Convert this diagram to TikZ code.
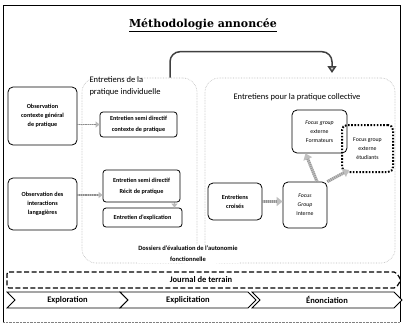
\documentclass[tikz,border=0pt]{standalone}
\usepackage{fontspec}
\setmainfont{Carlito}
\newfontfamily\titlefont{DejaVu Serif}
\usetikzlibrary{arrows.meta}

\begin{document}
\begin{tikzpicture}[x=1pt, y=-1pt,
    grpbox/.style={draw=gray!55, densely dotted, line width=0.6pt, rounded corners=14pt, inner sep=0pt},
    obsbox/.style={draw, line width=0.8pt, rounded corners=5pt, align=center, inner sep=1pt, font=\fontsize{6.2}{9}\selectfont\bfseries},
    entbox/.style={draw, line width=0.8pt, rounded corners=3pt, align=center, inner sep=1pt, font=\fontsize{6.2}{11}\selectfont\bfseries},
    fgbox/.style={draw, line width=0.8pt, rounded corners=5pt, align=center, inner sep=1pt, font=\fontsize{5.8}{9}\selectfont},
    linkarrow/.style={draw=gray!55, line width=1.6pt, -{Triangle[width=6pt,length=4pt]},
      postaction={draw=gray!90, line width=1.6pt, dash pattern=on 0.6pt off 1.2pt, arrows=-, shorten >=4pt}},
    fgarrow/.style={draw=gray!50, line width=3pt, -{Triangle[width=9pt,length=6pt]},
      postaction={draw=gray!85, line width=3pt, dash pattern=on 0.6pt off 1.4pt, arrows=-, shorten >=6pt}},
    phase/.style={draw, line width=0.8pt, fill=white},
    phaselbl/.style={font=\fontsize{8.5}{10}\selectfont\bfseries}
  ]
  \useasboundingbox (0,0) rectangle (404,330);

  % ===== cadre + titre =====
  \draw[line width=0.8pt] (3,322) -- (3,5) -- (400,5) -- (400,322);
  \draw[gray, densely dotted] (3,322) -- (400,322);
  \node[font=\titlefont\bfseries\fontsize{11}{13}\selectfont] (title) at (203,25)
    {\underline{Méthodologie annoncée}};

  % ===== zones d'entretiens (pointilles) =====
  \node[grpbox, minimum width=115pt, minimum height=185pt] (indiv) at (139.5,170.5) {};
  \node[grpbox, minimum width=190pt, minimum height=185pt] (coll) at (300,170.5) {};
  \node[font=\fontsize{8.5}{12.5}\selectfont, align=left, anchor=west] (indivlbl) at (86,86)
    {Entretiens de la\\pratique individuelle};
  \node[font=\fontsize{8.5}{10}\selectfont] (colllbl) at (297,97)
    {Entretiens pour la pratique collective};

  % fleche du haut : individuel -> collectif
  \coordinate (arrEnd) at (332,73);
  \draw[line width=1.5pt, black!75, rounded corners=10pt,
        -{Triangle[width=9pt,length=7pt,fill=gray!40]}]
    ([xshift=30.5pt]indiv.north) -- ++(0,-26) -| (arrEnd);

  % ===== observations (gauche) =====
  \node[obsbox, minimum width=69pt, minimum height=58pt] (obs1) at (42.5,116)
    {Observation\\contexte général\\de pratique};
  \node[obsbox, minimum width=69pt, minimum height=52pt] (obs2) at (42.5,204)
    {Observation des\\interactions\\langagières};

  % ===== entretiens individuels =====
  \node[entbox, minimum width=77pt, minimum height=25pt] (sdctx) at (138.5,124.5)
    {Entretien semi directif\\contexte de pratique};
  \node[entbox, minimum width=77pt, minimum height=32pt] (recit) at (141.5,186)
    {Entretien semi directif\\Récit de pratique};
  \node[entbox, minimum width=79pt, minimum height=19pt] (expl) at (142.5,217.5)
    {Entretien d'explication};

  \draw[linkarrow] (obs1.east |- sdctx.west) -- (sdctx.west);
  \draw[linkarrow] ([yshift=-9pt]obs2.east |- recit.west) -- ([yshift=-9pt]recit.west);
  \draw[linkarrow] ([xshift=33pt]recit.south) -- ([xshift=33pt]recit.south |- expl.north);

  \node[fill=white, inner sep=1pt, align=center, font=\fontsize{6.5}{11}\selectfont\bfseries]
    (dossiers) at (188,254) {Dossiers d'évaluation de l'autonomie\\fonctionnelle};

  % ===== entretiens collectifs =====
  \node[fgbox, font=\fontsize{6.2}{9}\selectfont\bfseries, minimum width=54pt, minimum height=37pt]
    (croises) at (235,201.5) {Entretiens\\croisés};
  \node[fgbox, minimum width=44pt, minimum height=46pt] (interne) at (305,205)
    {\itshape Focus\\\itshape Group\\Interne};
  \node[fgbox, minimum width=55pt, minimum height=43pt] (form) at (319.5,131.5)
    {\itshape Focus group\\externe\\Formateurs};
  \node[fgbox, draw=black, line width=2pt, dash pattern=on 1.6pt off 1.6pt,
        minimum width=51pt, minimum height=47pt] (etud) at (367.5,148.5)
    {Focus group\\externe\\étudiants};

  \draw[fgarrow] (croises.east) -- (croises.east -| interne.west);
  \draw[fgarrow] ([xshift=12pt]interne.north) -- ([xshift=-14pt]form.south);
  \draw[fgarrow] (interne.north east) -- ([shift={(8pt,3pt)}]etud.south west);

  % ===== journal de terrain =====
  \draw[line width=1.2pt, dash pattern=on 5pt off 2.5pt, rounded corners=2pt]
    (7,272) -- (396,272) -- (401,280) -- (396,288) -- (7,288) -- cycle;
  \node[font=\fontsize{8.5}{10}\selectfont\bfseries] (journal) at (201,280) {Journal de terrain};

  % ===== phases =====
  \foreach \i/\xl/\xr/\lbl in {1/7/120/Exploration, 2/120/248/Explicitation, 3/252/394/Énonciation} {
    \draw[phase] (\xl,292) -- (\xr,292) -- (\xr+8,300) -- (\xr,308) -- (\xl,308) -- (\xl+8,300) -- cycle;
    \node[phaselbl] (phase\i) at ({(\xl+\xr)/2+4},300) {\lbl};
  }

\end{tikzpicture}
\end{document}
